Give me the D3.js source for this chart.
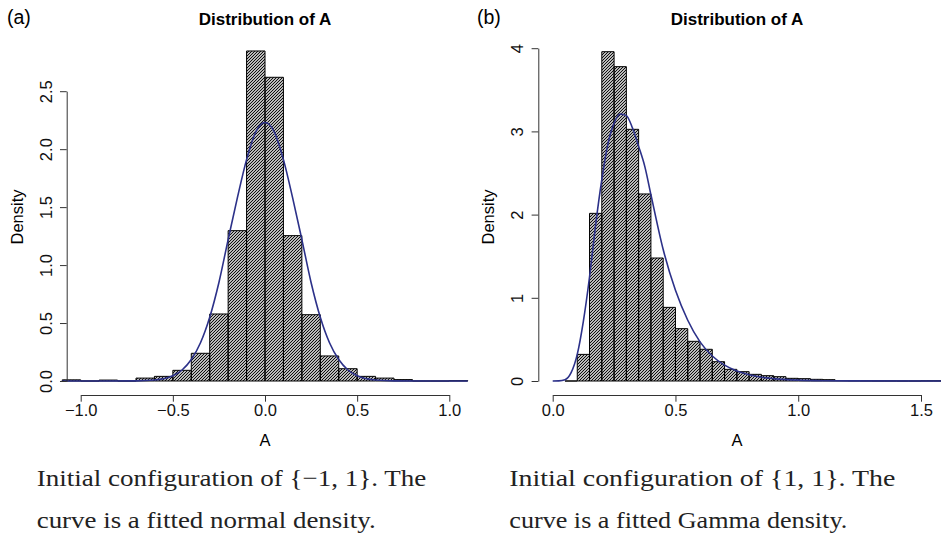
<!DOCTYPE html>
<html>
<head>
<meta charset="utf-8">
<script src="https://cdn.jsdelivr.net/npm/d3@7"></script>
<style>
  body { margin: 0; background: #fff; }
  svg { display: block; font-family: "Liberation Sans", Arial, sans-serif; }
  .axis path, .axis line { stroke: #333; }
  .axis text { fill: #111; font-size: 16.5px; font-family: "Liberation Sans", Arial, sans-serif; }
</style>
</head>
<body>
<svg id="chart"></svg>
<script>
// panel (a): histogram bins of width 0.1 from -1.1 to 1.1
const binsA = [
  [-1.1, -1.0, 0.01], [-1.0, -0.9, 0], [-0.9, -0.8, 0.008], [-0.8, -0.7, 0],
  [-0.7, -0.6, 0.025], [-0.6, -0.5, 0.04], [-0.5, -0.4, 0.092], [-0.4, -0.3, 0.239],
  [-0.3, -0.2, 0.578], [-0.2, -0.1, 1.297], [-0.1, 0.0, 2.847], [0.0, 0.1, 2.62],
  [0.1, 0.2, 1.254], [0.2, 0.3, 0.572], [0.3, 0.4, 0.216], [0.4, 0.5, 0.106],
  [0.5, 0.6, 0.04], [0.6, 0.7, 0.025], [0.7, 0.8, 0.012], [0.8, 0.9, 0],
  [0.9, 1.0, 0], [1.0, 1.1, 0.003]
];
// fitted normal curve
const curveAx = [-1.1, -0.7, -0.6, -0.5, -0.45, -0.4, -0.35, -0.3, -0.25, -0.2, -0.15, -0.1, -0.05, 0,
  0.05, 0.1, 0.15, 0.2, 0.25, 0.3, 0.35, 0.4, 0.45, 0.5, 0.6, 0.7, 1.1];
const curveAy = [0, 0.001, 0.008, 0.045, 0.095, 0.185, 0.33, 0.55, 0.85, 1.22, 1.58, 1.91, 2.15, 2.23,
  2.15, 1.91, 1.58, 1.22, 0.85, 0.55, 0.33, 0.185, 0.095, 0.045, 0.008, 0.001, 0];

// panel (b): histogram bins of width 0.05 from 0.05
const binsB = [
  [0.05, 0.1, 0], [0.1, 0.15, 0.32], [0.15, 0.2, 2.015], [0.2, 0.25, 3.958],
  [0.25, 0.3, 3.778], [0.3, 0.35, 3.025], [0.35, 0.4, 2.248], [0.4, 0.45, 1.478],
  [0.45, 0.5, 0.885], [0.5, 0.55, 0.629], [0.55, 0.6, 0.477], [0.6, 0.65, 0.381],
  [0.65, 0.7, 0.232], [0.7, 0.75, 0.14], [0.75, 0.8, 0.112], [0.8, 0.85, 0.08],
  [0.85, 0.9, 0.064], [0.9, 0.95, 0.052], [0.95, 1.0, 0.032], [1.0, 1.05, 0.028],
  [1.05, 1.1, 0.02], [1.1, 1.15, 0.016], [1.15, 1.2, 0.006], [1.2, 1.25, 0.004],
  [1.25, 1.3, 0.002], [1.3, 1.35, 0.001], [1.35, 1.4, 0.001], [1.4, 1.45, 0],
  [1.45, 1.5, 0], [1.5, 1.55, 0.002], [1.55, 1.6, 0.002]
];
// fitted Gamma curve
const curveBx = [0, 0.025, 0.05, 0.075, 0.1, 0.125, 0.15, 0.175, 0.2, 0.225, 0.25, 0.275, 0.3, 0.325,
  0.35, 0.375, 0.4, 0.45, 0.5, 0.55, 0.6, 0.65, 0.7, 0.75, 0.8, 0.85, 0.9, 1.0, 1.1, 1.2, 1.6];
const curveBy = [0, 0.001, 0.015, 0.1, 0.32, 0.72, 1.25, 1.88, 2.42, 2.85, 3.1, 3.21, 3.19, 3.04,
  2.82, 2.58, 2.24, 1.58, 1.09, 0.73, 0.47, 0.3, 0.19, 0.12, 0.075, 0.045, 0.028, 0.01, 0.003, 0.001, 0];

const ticksAx = [-1, -0.5, 0, 0.5, 1];
const ticksAy = [0, 0.5, 1, 1.5, 2, 2.5];
const ticksBx = [0, 0.5, 1, 1.5];
const ticksBy = [0, 1, 2, 3, 4];

const svg = d3.select('#chart').attr('width', 941).attr('height', 534);

// hatching like R's density/angle fill; 3px tile keeps it pixel aligned (no moire)
svg.append('defs').append('pattern')
  .attr('id', 'hatch')
  .attr('patternUnits', 'userSpaceOnUse')
  .attr('width', 3)
  .attr('height', 3)
  .append('path')
  .attr('d', 'M-1,4L4,-1M-1,1L1,-1M2,4L4,2')
  .attr('stroke', '#000')
  .attr('stroke-width', 1.05);

const fmtMinus = d => d3.format('.1f')(d).replace('-', '\u2212');

const drawPanel = (opt) => {
  const x = d3.scaleLinear().domain(opt.xDomain).range(opt.xRange);
  const y = d3.scaleLinear().domain(opt.yDomain).range([381, opt.yTop]);
  const g = svg.append('g');

  // bars (paths so that empty bins still draw a baseline segment)
  g.selectAll('path.bar')
    .data(opt.bins)
    .join('path')
    .attr('class', 'bar')
    .attr('d', d => `M${x(d[0])},${y(0)}V${y(d[2])}H${x(d[1])}V${y(0)}Z`)
    .attr('fill', 'url(#hatch)')
    .attr('stroke', '#000')
    .attr('stroke-width', 1);

  // fitted density curve
  const line = d3.line()
    .x((d, i) => x(opt.cx[i]))
    .y(d => y(d))
    .curve(d3.curveMonotoneX);
  g.append('path')
    .datum(opt.cy)
    .attr('d', line)
    .attr('fill', 'none')
    .attr('stroke', '#2c3189')
    .attr('stroke-width', 1.6);

  // x axis, offset below the bars
  g.append('g')
    .attr('class', 'axis')
    .attr('transform', 'translate(0,395)')
    .call(d3.axisBottom(x).tickValues(opt.xTicks).tickFormat(fmtMinus)
      .tickSize(6.7).tickSizeOuter(0).tickPadding(3));

  // y axis with rotated labels
  g.append('g')
    .attr('class', 'axis')
    .attr('transform', `translate(${opt.yAxisX},0)`)
    .call(d3.axisLeft(y).tickValues(opt.yTicks).tickFormat(opt.yFormat)
      .tickSize(6.7).tickSizeOuter(0))
    .call(ax => ax.selectAll('text')
      .attr('transform', 'rotate(-90)')
      .attr('x', 0).attr('y', -15).attr('dy', 0)
      .style('text-anchor', 'middle'));

  // title
  svg.append('text')
    .attr('x', opt.titleX).attr('y', 24.5)
    .attr('text-anchor', 'middle')
    .attr('font-size', 17).attr('font-weight', 'bold')
    .text('Distribution of A');
  // panel letter
  svg.append('text')
    .attr('x', opt.letterX).attr('y', 24)
    .attr('font-size', 19.5)
    .text(opt.letter);
  // axis labels
  svg.append('text')
    .attr('x', opt.titleX).attr('y', 446)
    .attr('text-anchor', 'middle')
    .attr('font-size', 16.5)
    .text('A');
  svg.append('text')
    .attr('transform', `translate(${opt.yLabelX},217) rotate(-90)`)
    .attr('text-anchor', 'middle')
    .attr('font-size', 16.5)
    .text('Density');
  // caption
  opt.caption.forEach((c, i) => {
    svg.append('text')
      .attr('x', opt.capX).attr('y', 486 + i * 41.7)
      .attr('font-family', '"Liberation Serif", "Times New Roman", serif')
      .attr('font-size', 24)
      .attr('fill', '#222')
      .attr('textLength', c.w)
      .attr('lengthAdjust', 'spacingAndGlyphs')
      .text(c.t);
  });
};

drawPanel({
  bins: binsA, cx: curveAx, cy: curveAy,
  xDomain: [-1, 1], xRange: [80.7, 449.3],
  yDomain: [0, 2.5], yTop: 91.2,
  xTicks: ticksAx, yTicks: ticksAy, yFormat: fmtMinus,
  yAxisX: 66.7, titleX: 265, letter: '(a)', letterX: 7, yLabelX: 23,
  capX: 36.7,
  caption: [
    { t: 'Initial configuration of {\u22121, 1}. The', w: 389.5 },
    { t: 'curve is a fitted normal density.', w: 339 }
  ]
});

drawPanel({
  bins: binsB, cx: curveBx, cy: curveBy,
  xDomain: [0, 1.5], xRange: [552.7, 921],
  yDomain: [0, 4], yTop: 48.2,
  xTicks: ticksBx, yTicks: ticksBy, yFormat: d3.format('d'),
  yAxisX: 538.3, titleX: 737, letter: '(b)', letterX: 477, yLabelX: 494,
  capX: 509.3,
  caption: [
    { t: 'Initial configuration of {1, 1}.  The', w: 386 },
    { t: 'curve is a fitted Gamma density.', w: 338 }
  ]
});
</script>
</body>
</html>
